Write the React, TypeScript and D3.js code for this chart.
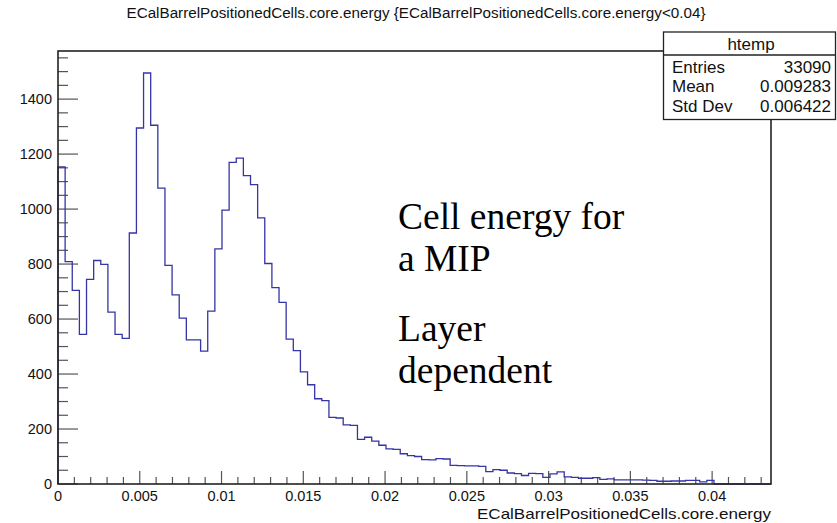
import React from "react";
import * as d3 from "d3";

const TITLE = "ECalBarrelPositionedCells.core.energy {ECalBarrelPositionedCells.core.energy<0.04}";
const X_TITLE = "ECalBarrelPositionedCells.core.energy";
const X_MAX = 0.0436;
const N_BINS = 100;
const Y_MAX = 1575;

// bin contents (bins 0..91 non-zero, rest empty)
const counts: number[] = [
  1153, 809, 704, 544, 744, 813, 799, 625, 544, 530,
  913, 1295, 1495, 1305, 1076, 795, 688, 603, 524, 524,
  483, 629, 855, 996, 1170, 1185, 1122, 1089, 968, 802,
  714, 661, 527, 485, 408, 361, 310, 303, 242, 240,
  215, 213, 162, 170, 156, 141, 128, 126, 110, 103,
  100, 89, 88, 92, 91, 68, 67, 66, 66, 64,
  45, 52, 50, 40, 38, 31, 39, 38, 24, 37,
  44, 26, 24, 21, 21, 23, 17, 19, 15, 15,
  15, 15, 14, 13, 10, 10, 11, 11, 13, 13,
  8, 13,
];

const xTicksMajor = [0, 0.005, 0.01, 0.015, 0.02, 0.025, 0.03, 0.035, 0.04];
const xTickLabels = ["0", "0.005", "0.01", "0.015", "0.02", "0.025", "0.03", "0.035", "0.04"];
const yTicksMajor = [0, 200, 400, 600, 800, 1000, 1200, 1400];
const yTickLabels = ["0", "200", "400", "600", "800", "1000", "1200", "1400"];

const statsLabels = ["Entries", "Mean", "Std Dev"];
const statsValues = ["33090", "0.009283", "0.006422"];
const annotationLines1 = ["Cell energy for", "a MIP"];
const annotationLines2 = ["Layer", "dependent"];

const L = 58, R = 771, T = 51, B = 484;

export default function App() {
  const x = d3.scaleLinear().domain([0, X_MAX]).range([L, R]);
  const y = d3.scaleLinear().domain([0, Y_MAX]).range([B, T]);
  const bw = X_MAX / N_BINS;
  const vals = d3.range(N_BINS).map((i) => (i < counts.length ? counts[i] : 0));

  // step path
  let d = `M${x(0)},${y(0)}`;
  vals.forEach((v, i) => {
    d += `L${x(i * bw)},${y(v)}L${x((i + 1) * bw)},${y(v)}`;
  });
  d += `L${x(X_MAX)},${y(0)}`;

  const xMinor = d3.range(0, X_MAX + 1e-9, 0.001);
  const yMinor = d3.range(0, Y_MAX, 50);
  const font = "'Liberation Sans', Arial, Helvetica, sans-serif";
  const serif = "'Liberation Serif', 'Times New Roman', serif";
  const axisColor = "#222";

  return (
    <svg width={837} height={523} style={{ position: "absolute", left: 0, top: 0, background: "#fff" }}>
      <rect x={0} y={0} width={837} height={523} fill="#fff" />
      <text x={416} y={18} textAnchor="middle" fontFamily={font} fontSize={14} textLength={579} lengthAdjust="spacingAndGlyphs" fill="#111">
        {TITLE}
      </text>

      {/* y minor ticks */}
      {yMinor.map((v) => (
        <line key={"ym" + v} x1={L} x2={L + (v % 200 === 0 ? 20 : 10)} y1={y(v)} y2={y(v)} stroke="#555" strokeWidth={1.2} />
      ))}
      {/* x minor ticks */}
      {xMinor.map((v, i) => (
        <line key={"xm" + i} x1={x(v)} x2={x(v)} y1={B} y2={B - (i % 5 === 0 ? 13 : 7)} stroke="#555" strokeWidth={1.2} />
      ))}

      <path d={d} fill="none" stroke="#3535a5" strokeWidth={1.3} />

      {/* frame */}
      <rect x={L} y={T} width={R - L} height={B - T} fill="none" stroke={axisColor} strokeWidth={1.6} />

      {yTicksMajor.map((v, i) => (
        <text key={"yl" + v} x={52} y={y(v) + 5} textAnchor="end" fontFamily={font} fontSize={14.5} fill="#111">
          {yTickLabels[i]}
        </text>
      ))}
      {xTicksMajor.map((v, i) => (
        <text key={"xl" + i} x={x(v)} y={500.5} textAnchor="middle" fontFamily={font} fontSize={14.5} fill="#111">
          {xTickLabels[i]}
        </text>
      ))}
      <text x={R} y={519} textAnchor="end" fontFamily={font} fontSize={15} textLength={294} lengthAdjust="spacingAndGlyphs" fill="#111">
        {X_TITLE}
      </text>

      {/* annotations */}
      {annotationLines1.map((s, i) => (
        <text key={"a1" + i} x={398} y={229 + i * 42} fontFamily={serif} fontSize={37.5} fill="#000">
          {s}
        </text>
      ))}
      {annotationLines2.map((s, i) => (
        <text key={"a2" + i} x={398} y={341 + i * 42} fontFamily={serif} fontSize={37.5} fill="#000">
          {s}
        </text>
      ))}

      {/* stats box */}
      <rect x={663.5} y={32} width={172} height={87.5} fill="#fff" stroke={axisColor} strokeWidth={1.3} />
      <line x1={663.5} x2={835.5} y1={55} y2={55} stroke={axisColor} strokeWidth={1.3} />
      <text x={751} y={50} textAnchor="middle" fontFamily={font} fontSize={17} fill="#111">htemp</text>
      {statsLabels.map((s, i) => (
        <g key={"st" + i}>
          <text x={672} y={73 + i * 19.3} fontFamily={font} fontSize={17} fill="#111">{s}</text>
          <text x={831} y={73 + i * 19.3} textAnchor="end" fontFamily={font} fontSize={17} fill="#111">{statsValues[i]}</text>
        </g>
      ))}
    </svg>
  );
}
